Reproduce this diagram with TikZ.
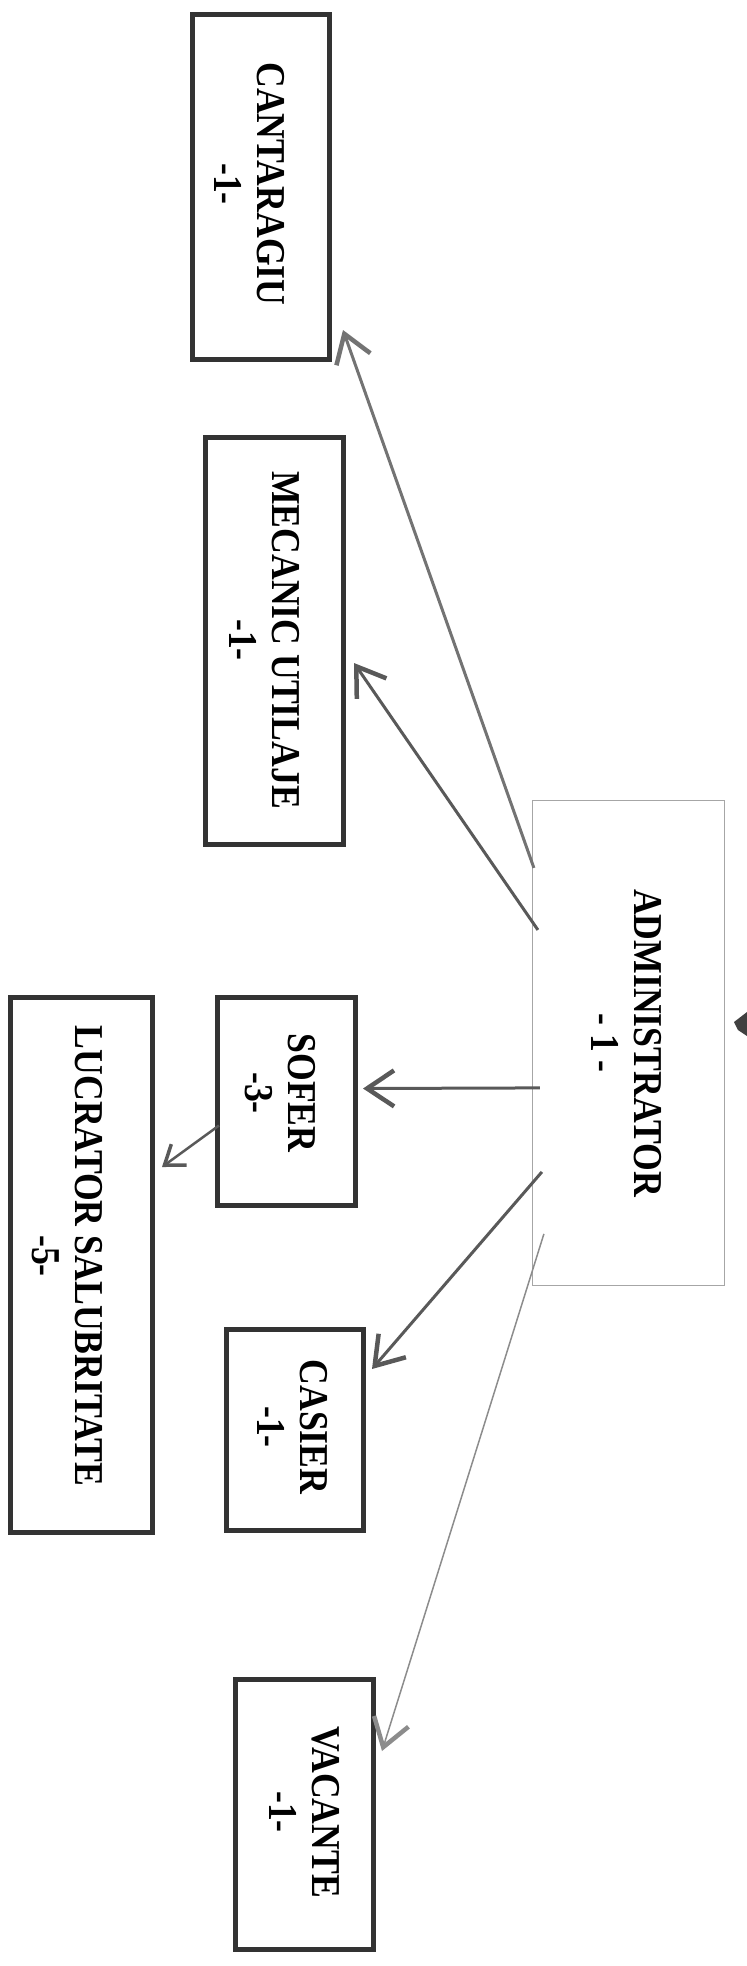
\documentclass[tikz,border=0pt]{standalone}
\usepackage{fontspec}
\setmainfont[FakeStretch=0.87]{Liberation Serif}
\usetikzlibrary{arrows.meta}

\begin{document}
\begin{tikzpicture}[x=1pt,y=-1pt,
  box/.style={draw=black!80, line width=5pt, inner sep=0pt},
  chief/.style={draw=black!35, line width=1.2pt, inner sep=0pt},
  lbl/.style={rotate=-90, align=center,
    font=\bfseries\fontsize{41}{43}\selectfont},
  link/.style={draw=black!65, line width=3pt,
    -{Straight Barb[length=27pt,width=36pt,line width=4.5pt]}}]

  \useasboundingbox (0,0) rectangle (747,1966);

%%%%%%%%%%%%%%%%%%%%%%%%%%%%%%%%%%%%%%%%%%
  % Boxes
  \node[box, minimum width=137pt, minimum height=345pt] (cant) at (261,187) {};
  \node[box, minimum width=138pt, minimum height=407pt] (mec) at (274.5,641) {};
  \node[chief, minimum width=192pt, minimum height=485pt] (admin) at (628.5,1043) {};
  \node[box, minimum width=138pt, minimum height=208pt] (sofer) at (286.5,1101.5) {};
  \node[box, minimum width=142pt, minimum height=535pt] (lucr) at (81.5,1265) {};
  \node[box, minimum width=137pt, minimum height=201pt] (casier) at (295,1430) {};
  \node[box, minimum width=138pt, minimum height=270pt] (vac) at (304.5,1814.5) {};

  % Labels
  \node[lbl] (cant-t) at (250,184) {CANTARAGIU\\-1-};
  \node[lbl] (mec-t) at (265,640) {MECANIC UTILAJE\\-1-};
  \node[lbl] (admin-t) at (627,1043) {ADMINISTRATOR\\- 1 -};
  \node[lbl] (sofer-t) at (280,1093) {SOFER\\-3-};
  \node[lbl] (lucr-t) at (67,1256) {LUCRATOR SALUBRITATE\\-5-};
  \node[lbl] (casier-t) at (293,1427) {CASIER\\-1-};
  \node[lbl] (vac-t) at (305,1812) {VACANTE\\-1-};

%%%%%%%%%%%%%%%%%%%%%%%%%%%%%%%%%%%%%%%%%%
  % Arrows from the administrator
  \draw[link, draw=black!55] ([xshift=2pt,yshift=-68pt]admin.north west)
    -- ([xshift=11pt,yshift=32pt]cant.south east);
  \draw[link] ([xshift=6pt,yshift=-130pt]admin.north west)
    -- ([xshift=8pt,yshift=-22pt]mec.east);
  \draw[link] ([xshift=8pt,yshift=-288pt]admin.north west)
    -- ([xshift=5pt,yshift=13pt]sofer.east);
  \draw[link] ([xshift=10pt,yshift=-372pt]admin.north west)
    -- ([xshift=6pt,yshift=-42pt]casier.north east);
  \draw[link, draw=black!45, line width=1.5pt] ([xshift=12pt,yshift=-434pt]admin.north west)
    -- ([xshift=6pt,yshift=-74pt]vac.north east);

  % Sofer to lucrator
  \draw[link, line width=2.5pt, -{Straight Barb[length=18pt,width=26pt,line width=3.5pt]}]
    ([xshift=4pt,yshift=-24pt]sofer.west) -- ([xshift=7pt,yshift=-172pt]lucr.north east);

  % Mark on the right edge
  \fill[black!75] (747,1012) -- (734,1022) -- (738,1030) -- (747,1036) -- cycle;

\end{tikzpicture}
\end{document}
